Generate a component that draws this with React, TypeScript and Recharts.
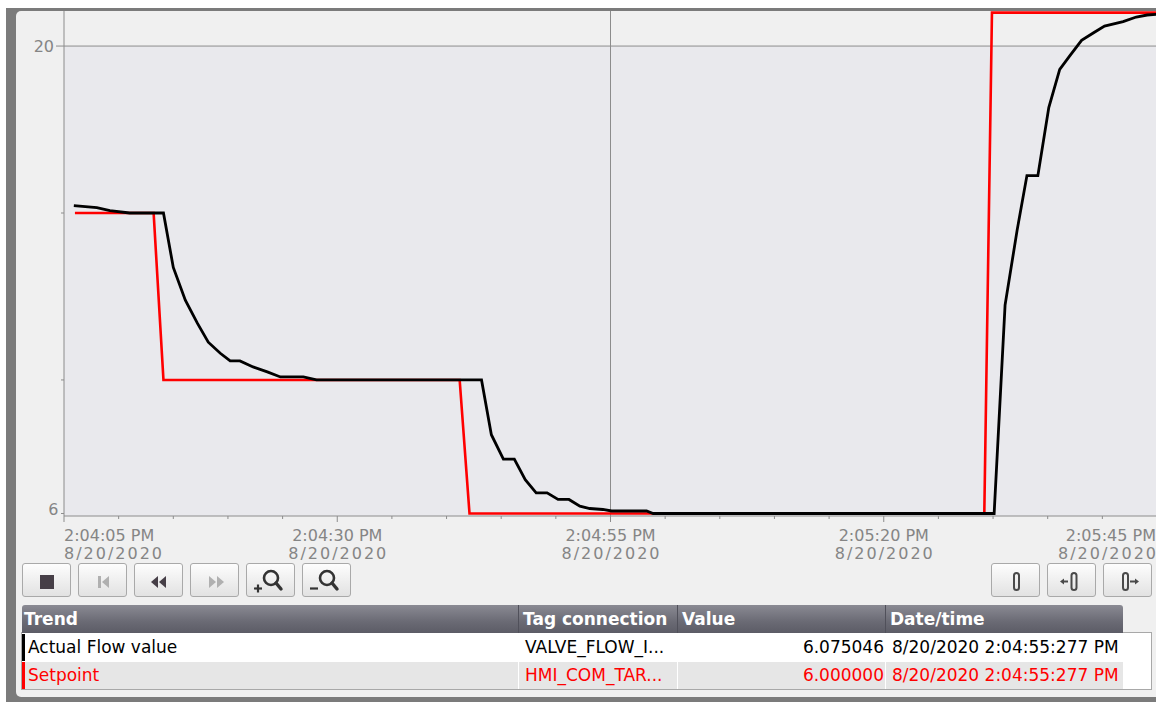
import { LineChart, Line, XAxis, YAxis, ReferenceLine, ReferenceArea } from "recharts"

// seconds after 2:04:05 PM
const flowTimes = [
  0.9, 3.0, 4.2, 6.0, 9.1, 10.0, 11.1, 12.2, 13.2, 14.3, 15.2, 16.1, 17.3, 18.6, 19.8, 21.9, 23.1,
  38.2, 39.1, 40.2, 41.2, 42.2, 43.2, 44.2, 45.2, 46.2, 47.2, 48.1, 49.3, 50.1, 53.3, 53.9,
  85.1, 86.1, 87.2, 88.1, 89.1, 90.1, 91.1, 92.0, 93.1, 94.2, 95.2, 96.9, 98.1, 99.1, 100,
]
const flowValues = [
  15.22, 15.16, 15.07, 15.0, 15.0, 13.37, 12.39, 11.7, 11.13, 10.8, 10.57, 10.57, 10.39, 10.24, 10.09, 10.09, 10.0,
  10.0, 8.36, 7.63, 7.63, 7.01, 6.62, 6.62, 6.42, 6.42, 6.22, 6.15, 6.12, 6.075, 6.075, 6.0,
  6.0, 12.24, 14.48, 16.12, 16.12, 18.16, 19.3, 19.7, 20.17, 20.4, 20.6, 20.73, 20.87, 20.93, 20.95,
]
const setpointTimes = [1.0, 8.2, 9.1, 36.2, 37.1, 84.2, 84.9, 100]
const setpointValues = [15, 15, 10, 10, 6, 6, 21, 21]

const timeTicks = [0, 5, 10, 15, 20, 25, 30, 35, 40, 45, 50, 55, 60, 65, 70, 75, 80, 85, 90, 95, 100]
const majorTicks = [0, 25, 50, 75, 100]
const timeLabels = ["2:04:05 PM", "2:04:30 PM", "2:04:55 PM", "2:05:20 PM", "2:05:45 PM"]
const dateLabel = "8/20/2020"
const valueTicks = [6, 10, 15, 20]
const labeledValues = [20, 6]
const rulerTime = 50
const yDomain = [5.925, 21.05]

const trendNames = ["Actual Flow value", "Setpoint"]
const tagNames = ["VALVE_FLOW_I...", "HMI_COM_TAR..."]
const cursorValues = ["6.075046", "6.000000"]
const cursorTimes = ["8/20/2020 2:04:55:277 PM", "8/20/2020 2:04:55:277 PM"]
const trendColors = ["#000000", "#ff0000"]

const flowData = flowTimes.map((t, i) => ({ t, v: flowValues[i] }))
const setpointData = setpointTimes.map((t, i) => ({ t, v: setpointValues[i] }))

const axisGrey = "#8c8c8c"
const textGrey = "#858585"
const font = "'DejaVu Sans', sans-serif"

function TimeTick(props: any) {
  const { x, y, payload } = props
  const idx = majorTicks.indexOf(payload.value)
  const major = idx >= 0
  const last = idx === majorTicks.length - 1
  const anchor = idx === 0 ? "start" : last ? "end" : "middle"
  const tx = last ? x - 1 : x
  return (
    <g>
      <line x1={x} y1={y} x2={x} y2={y + (major ? 6 : 3)} stroke={axisGrey} />
      {major && (
        <text textAnchor={anchor} fill={textGrey} fontSize={16} fontFamily={font}>
          <tspan x={tx} y={y + 24.5}>{timeLabels[idx]}</tspan>
          <tspan x={tx} y={y + 42.5} textLength={98} lengthAdjust="spacing">{dateLabel}</tspan>
        </text>
      )}
    </g>
  )
}

function ValueTick(props: any) {
  const { x, y, payload } = props
  const v = payload.value
  const len = v === 20 ? 8 : 3
  return (
    <g>
      <line x1={x - len} y1={y} x2={x} y2={y} stroke={axisGrey} />
      {labeledValues.includes(v) && (
        <text x={v === 6 ? 58.5 : 54} y={v === 6 ? y + 1.5 : y + 6} textAnchor="end" fill={textGrey} fontSize={16} fontFamily={font}>
          {v}
        </text>
      )}
    </g>
  )
}

function Icon({ kind }: { kind: string }) {
  const dark = "#463f47"
  const grey = "#b0b0b0"
  const ruler = (x: number) => <rect x={x} y={9} width={5} height={17} rx={2.5} fill="none" stroke="#4a4a4a" strokeWidth={2} />
  switch (kind) {
    case "stop":
      return <rect x={17} y={11} width={14} height={14} fill={dark} />
    case "first":
      return (
        <g fill={grey}>
          <rect x={19} y={12} width={3} height={12} />
          <path d="M30 12 L23 18 L30 24 Z" />
        </g>
      )
    case "rew":
      return (
        <g fill={dark}>
          <path d="M23 12 L16 18 L23 24 Z" />
          <path d="M31 12 L24 18 L31 24 Z" />
        </g>
      )
    case "fwd":
      return (
        <g fill={grey}>
          <path d="M18 12 L25 18 L18 24 Z" />
          <path d="M26 12 L33 18 L26 24 Z" />
        </g>
      )
    case "zin":
    case "zout":
      return (
        <g stroke="#333333" fill="none" strokeWidth={2.6}>
          <circle cx={24} cy={14} r={7} />
          <line x1={29} y1={19} x2={34} y2={25} strokeWidth={3.4} strokeLinecap="round" />
          {kind === "zin" && <line x1={11} y1={20.5} x2={11} y2={28.5} strokeWidth={2.2} />}
          <line x1={7} y1={24.5} x2={15} y2={24.5} strokeWidth={2.2} />
        </g>
      )
    case "ruler":
      return ruler(22)
    case "rulerLeft":
      return (
        <g>
          <path d="M12 17.5 L16 14.5 L16 20.5 Z" fill="#4a4a4a" />
          <line x1={15} y1={17.5} x2={20} y2={17.5} stroke="#4a4a4a" strokeWidth={2} />
          {ruler(23.5)}
        </g>
      )
    default:
      return (
        <g>
          {ruler(19)}
          <line x1={26} y1={17.5} x2={31} y2={17.5} stroke="#4a4a4a" strokeWidth={2} />
          <path d="M35 17.5 L31 14.5 L31 20.5 Z" fill="#4a4a4a" />
        </g>
      )
  }
}

function Button({ left, kind }: { left: number; kind: string }) {
  return (
    <div
      style={{
        position: "absolute",
        left,
        top: 563,
        width: 49,
        height: 34,
        boxSizing: "border-box",
        border: "1px solid #a9a9a9",
        borderRadius: 3,
        background: "linear-gradient(#fdfdfd, #e2e2e2)",
      }}
    >
      <svg width={47} height={32} style={{ position: "absolute", left: 0, top: 0 }}>
        <Icon kind={kind} />
      </svg>
    </div>
  )
}

const leftButtons = ["stop", "first", "rew", "fwd", "zin", "zout"]
const rightButtons = ["ruler", "rulerLeft", "rulerRight"]
const columnEdges = [22, 518, 677, 885, 1123]
const columnTitles = ["Trend", "Tag connection", "Value", "Date/time"]

export default function App() {
  return (
    <div
      style={{
        position: "absolute",
        left: 0,
        top: 0,
        width: 1156,
        height: 702,
        overflow: "hidden",
        background: "#ffffff",
        fontFamily: font,
      }}
    >
      <div style={{ position: "absolute", left: 6, top: 8, width: 1200, height: 700, background: "#7b7b7b" }} />
      <div
        style={{
          position: "absolute",
          left: 16,
          top: 11,
          width: 1200,
          height: 686,
          background: "#f0f0f0",
          borderRadius: 5,
        }}
      />

      <div style={{ position: "absolute", left: 0, top: 0, zIndex: 1 }}>
        <LineChart width={1160} height={566} margin={{ top: 11, right: 3, bottom: 0, left: 0 }}>
          <ReferenceArea x1={0} x2={100} y1={yDomain[0]} y2={20} fill="#e9e9ed" fillOpacity={1} stroke="none" />
          <ReferenceLine y={20} stroke={axisGrey} strokeWidth={1} />
          <ReferenceLine x={rulerTime} stroke={axisGrey} strokeWidth={1} />
          <XAxis
            dataKey="t"
            type="number"
            domain={[0, 100]}
            ticks={timeTicks}
            interval={0}
            height={50}
            tickSize={0}
            tickMargin={0}
            tickLine={false}
            axisLine={{ stroke: axisGrey }}
            tick={<TimeTick />}
            allowDataOverflow
          />
          <YAxis
            type="number"
            domain={yDomain}
            ticks={valueTicks}
            interval={0}
            width={64}
            tickSize={0}
            tickMargin={0}
            tickLine={false}
            axisLine={{ stroke: axisGrey }}
            tick={<ValueTick />}
            allowDataOverflow
          />
          <Line
            data={setpointData}
            dataKey="v"
            type="linear"
            stroke="#ff0000"
            strokeWidth={2.6}
            dot={false}
            activeDot={false}
            isAnimationActive={false}
          />
          <Line
            data={flowData}
            dataKey="v"
            type="linear"
            stroke="#000000"
            strokeWidth={2.8}
            dot={false}
            activeDot={false}
            isAnimationActive={false}
          />
        </LineChart>
      </div>

      {leftButtons.map((k, i) => (
        <Button key={k} left={22 + i * 56} kind={k} />
      ))}
      {rightButtons.map((k, i) => (
        <Button key={k} left={991 + i * 56} kind={k} />
      ))}

      {/* trend table */}
      <div
        style={{
          position: "absolute",
          left: 21,
          top: 632,
          width: 1131,
          height: 58,
          boxSizing: "border-box",
          border: "1px solid #a8a8a8",
          background: "#ffffff",
        }}
      />
      <div
        style={{
          position: "absolute",
          left: 22,
          top: 605,
          width: 1101,
          height: 28,
          borderRadius: "3px 3px 0 0",
          background: "linear-gradient(#8a8a93, #6a6a74 60%, #5c5c66)",
        }}
      />
      {columnTitles.map((title, i) => (
        <div
          key={title}
          style={{
            position: "absolute",
            left: columnEdges[i],
            top: 605,
            width: columnEdges[i + 1] - columnEdges[i],
            height: 28,
            lineHeight: "28px",
            boxSizing: "border-box",
            paddingLeft: i === 0 ? 2 : 4,
            borderLeft: i === 0 ? "none" : "1px solid #50505a",
            color: "#ffffff",
            fontWeight: "bold",
            fontSize: 17,
            whiteSpace: "nowrap",
            overflow: "hidden",
          }}
        >
          {title}
        </div>
      ))}
      {trendNames.map((name, r) => {
        const top = 634 + r * 28
        const color = trendColors[r]
        const bg = r === 1 ? "#e6e6e6" : "#ffffff"
        const cells = [name, tagNames[r], cursorValues[r], cursorTimes[r]]
        return (
          <div key={name}>
            <div style={{ position: "absolute", left: 22, top, width: 3, height: 27, background: color }} />
            {cells.map((text, c) => (
              <div
                key={c}
                style={{
                  position: "absolute",
                  left: c === 0 ? 25 : columnEdges[c],
                  top,
                  width: columnEdges[c + 1] - (c === 0 ? 25 : columnEdges[c]),
                  height: 27,
                  lineHeight: "27px",
                  boxSizing: "border-box",
                  background: bg,
                  borderLeft: c === 0 ? "none" : "1px solid #ffffff",
                  paddingLeft: c === 0 ? 3 : c === 2 ? 0 : 6,
                  paddingRight: c === 2 ? 1 : 0,
                  textAlign: c === 2 ? "right" : "left",
                  color,
                  fontSize: 17,
                  whiteSpace: "nowrap",
                  overflow: "hidden",
                }}
              >
                {text}
              </div>
            ))}
          </div>
        )
      })}
    </div>
  )
}
